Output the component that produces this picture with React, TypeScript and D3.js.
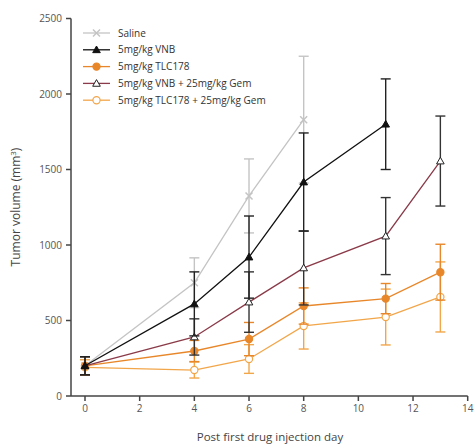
import React from "react";
import * as d3 from "d3";

const seriesNames = ["Saline", "5mg/kg VNB", "5mg/kg TLC178", "5mg/kg VNB + 25mg/kg Gem", "5mg/kg TLC178 + 25mg/kg Gem"];
const salineDays = [0, 4, 6, 8];
const salineVals = [200, 750, 1325, 1830];
const salineErr = [60, 165, 245, 420];
const vnbDays = [0, 4, 6, 8, 11];
const vnbVals = [200, 610, 920, 1417, 1800];
const vnbErr = [60, 212, 272, 325, 300];
const tlcDays = [0, 4, 6, 8, 11, 13];
const tlcVals = [200, 298, 377, 596, 645, 820];
const tlcErr = [60, 70, 110, 120, 100, 185];
const vgDays = [0, 4, 6, 8, 11, 13];
const vgVals = [200, 391, 622, 848, 1059, 1556];
const vgErr = [60, 120, 200, 245, 255, 298];
const tgDays = [0, 4, 6, 8, 11, 13];
const tgVals = [190, 172, 245, 464, 523, 656];
const tgErr = [50, 53, 95, 153, 185, 232];
const xTicks = [0, 2, 4, 6, 8, 10, 12, 14];
const yTicks = [0, 500, 1000, 1500, 2000, 2500];

const colors = ["#c4c4c4", "#111111", "#e8872a", "#8a3a48", "#f2a64a"];
const errColors = ["#c4c4c4", "#222222", "#e8872a", "#333333", "#f2a64a"];
const markers = ["x", "triF", "circF", "triO", "circO"];

const font = "'Open Sans', 'Liberation Sans', sans-serif";

function Marker({ type, x, y, color }: { type: string; x: number; y: number; color: string }) {
  if (type === "x") {
    const s = 3.5;
    return (
      <g stroke={color} strokeWidth={1.5}>
        <line x1={x - s} y1={y - s} x2={x + s} y2={y + s} />
        <line x1={x - s} y1={y + s} x2={x + s} y2={y - s} />
      </g>
    );
  }
  if (type === "triF" || type === "triO") {
    const s = 3.8;
    const pts = `${x},${y - s} ${x - s},${y + s * 0.75} ${x + s},${y + s * 0.75}`;
    return <polygon points={pts} fill={type === "triF" ? color : "#fff"} stroke={type === "triF" ? color : "#222"} strokeWidth={1} />;
  }
  return <circle cx={x} cy={y} r={3.6} fill={type === "circF" ? color : "#fff"} stroke={color} strokeWidth={1.2} />;
}

export default function App() {
  const W = 476, H = 446;
  const x = d3.scaleLinear().domain([0, 14]).range([85, 467.7]);
  const y = d3.scaleLinear().domain([0, 2500]).range([396, 18.5]);
  const axisX0 = 71;
  const series = [
    { days: salineDays, vals: salineVals, err: salineErr },
    { days: vnbDays, vals: vnbVals, err: vnbErr },
    { days: tlcDays, vals: tlcVals, err: tlcErr },
    { days: vgDays, vals: vgVals, err: vgErr },
    { days: tgDays, vals: tgVals, err: tgErr },
  ];
  const line = d3.line<[number, number]>().x((d) => x(d[0])).y((d) => y(d[1]));
  const order = [0, 4, 2, 3, 1];
  return (
    <svg width={W} height={H} style={{ position: "absolute", left: 0, top: 0, background: "#fff" }}>
      <g stroke="#444" strokeWidth={1.5} fill="none">
        <line x1={axisX0} y1={y(2500)} x2={axisX0} y2={396} />
        <line x1={axisX0} y1={396} x2={x(14)} y2={396} />
        {yTicks.map((t) => (
          <line key={"yt" + t} x1={axisX0 - 5} x2={axisX0} y1={y(t)} y2={y(t)} />
        ))}
        {xTicks.map((t) => (
          <line key={"xt" + t} x1={x(t)} x2={x(t)} y1={396} y2={401} />
        ))}
      </g>
      <g fontFamily={font} fontSize={10} fill="#555">
        {yTicks.map((t) => (
          <text key={"yl" + t} x={axisX0 - 9} y={y(t)} dy="0.35em" textAnchor="end">{t}</text>
        ))}
        {xTicks.map((t) => (
          <text key={"xl" + t} x={x(t)} y={412} textAnchor="middle">{t}</text>
        ))}
      </g>
      <text x={270} y={441} textAnchor="middle" fontFamily={font} fontSize={11.5} fill="#444">Post first drug injection day</text>
      <text transform={`translate(20,207) rotate(-90)`} textAnchor="middle" fontFamily={font} fontSize={12} fill="#444">
        Tumor volume (mm<tspan dy="-4" fontSize={8}>3</tspan><tspan dy="4">)</tspan>
      </text>
      {order.map((i) => {
        const s = series[i];
        const pts = s.days.map((d, k) => [d, s.vals[k]] as [number, number]);
        return (
          <g key={"s" + i}>
            <g stroke={errColors[i]} strokeWidth={1.4}>
              {s.days.map((d, k) => {
                const cx = x(d);
                const top = y(s.vals[k] + s.err[k]);
                const bot = y(s.vals[k] - s.err[k]);
                return (
                  <g key={k}>
                    <line x1={cx} x2={cx} y1={top} y2={bot} />
                    <line x1={cx - 5} x2={cx + 5} y1={top} y2={top} />
                    <line x1={cx - 5} x2={cx + 5} y1={bot} y2={bot} />
                  </g>
                );
              })}
            </g>
            <path d={line(pts) || ""} fill="none" stroke={colors[i]} strokeWidth={1.3} />
            {pts.map((p, k) => (
              <Marker key={k} type={markers[i]} x={x(p[0])} y={y(p[1])} color={colors[i]} />
            ))}
          </g>
        );
      })}
      <g fontFamily={font} fontSize={10} fill="#333">
        {seriesNames.map((n, i) => {
          const ly = 33 + i * 16.8;
          return (
            <g key={"lg" + i}>
              <line x1={83} x2={110} y1={ly} y2={ly} stroke={colors[i]} strokeWidth={1.3} />
              <Marker type={markers[i]} x={96.5} y={ly} color={colors[i]} />
              <text x={118} y={ly} dy="0.35em">{n}</text>
            </g>
          );
        })}
      </g>
    </svg>
  );
}
